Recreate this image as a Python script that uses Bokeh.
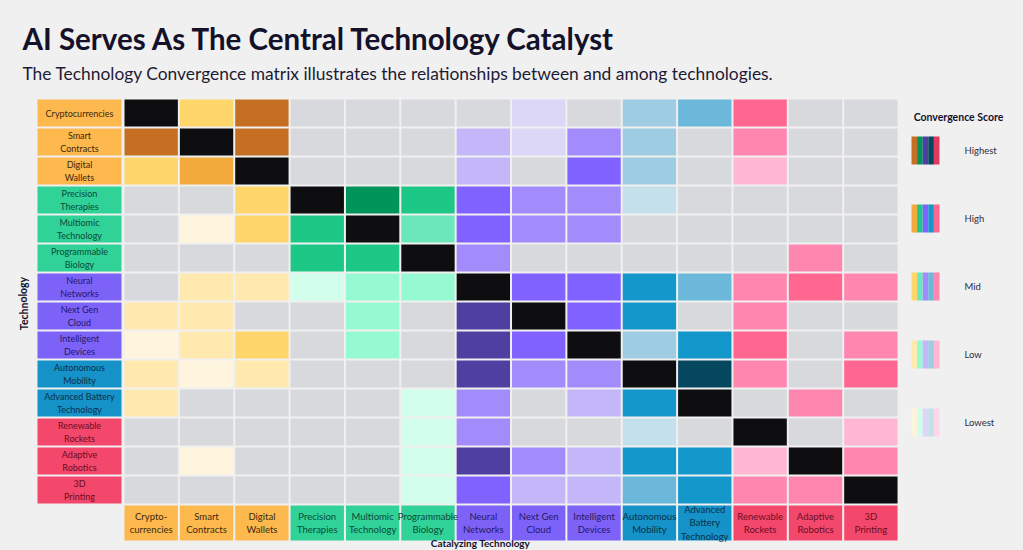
from bokeh.plotting import figure
from bokeh.models import Range1d
from bokeh.core.properties import value
from bokeh.embed import file_html
from bokeh.resources import INLINE

# ---------------- data ----------------
row_labels = ["Cryptocurrencies", "Smart\nContracts", "Digital\nWallets", "Precision\nTherapies",
              "Multiomic\nTechnology", "Programmable\nBiology", "Neural\nNetworks", "Next Gen\nCloud",
              "Intelligent\nDevices", "Autonomous\nMobility", "Advanced Battery\nTechnology",
              "Renewable\nRockets", "Adaptive\nRobotics", "3D\nPrinting"]
col_labels = ["Crypto-\ncurrencies", "Smart\nContracts", "Digital\nWallets", "Precision\nTherapies",
              "Multiomic\nTechnology", "Programmable\nBiology", "Neural\nNetworks", "Next Gen\nCloud",
              "Intelligent\nDevices", "Autonomous\nMobility", "Advanced\nBattery\nTechnology",
              "Renewable\nRockets", "Adaptive\nRobotics", "3D\nPrinting"]
tech_group = [0, 0, 0, 1, 1, 1, 2, 2, 2, 3, 3, 4, 4, 4]
legend_levels = ["Highest", "High", "Mid", "Low", "Lowest"]
legend_scores = [5, 4, 3, 2, 1]

# convergence score: -1 = self, 0 = none, 1 lowest ... 5 highest
scores = [
    [-1, 3, 5, 0, 0, 0, 0, 1, 0, 2, 3, 4, 0, 0],
    [5, -1, 5, 0, 0, 0, 2, 1, 3, 2, 0, 3, 0, 0],
    [3, 4, -1, 0, 0, 0, 2, 0, 4, 2, 0, 2, 0, 0],
    [0, 0, 3, -1, 5, 4, 4, 3, 3, 1, 0, 0, 0, 0],
    [0, 1, 3, 4, -1, 3, 4, 3, 3, 0, 0, 0, 0, 0],
    [0, 0, 0, 4, 4, -1, 3, 0, 0, 0, 0, 0, 3, 0],
    [0, 2, 2, 1, 2, 2, -1, 4, 4, 4, 3, 3, 4, 3],
    [2, 2, 0, 0, 2, 0, 5, -1, 4, 4, 0, 3, 0, 0],
    [1, 2, 3, 0, 2, 0, 5, 4, -1, 2, 4, 4, 0, 3],
    [2, 1, 2, 0, 0, 0, 5, 3, 3, -1, 5, 3, 0, 4],
    [2, 0, 0, 0, 0, 1, 3, 0, 2, 4, -1, 0, 3, 0],
    [0, 0, 0, 0, 0, 1, 3, 0, 0, 1, 0, -1, 0, 2],
    [0, 1, 0, 0, 0, 1, 5, 3, 2, 4, 4, 2, -1, 3],
    [0, 0, 0, 0, 0, 1, 4, 2, 2, 3, 4, 3, 3, -1],
]

# ---------------- styles ----------------
palettes = [
    {5: "#C56F22", 4: "#F2AA3C", 3: "#FFD66B", 2: "#FFE9AF", 1: "#FFF5DE"},
    {5: "#00935A", 4: "#1DC886", 3: "#6AE8BA", 2: "#95F9D2", 1: "#D2FEEC"},
    {5: "#4E3FA0", 4: "#7F62FF", 3: "#A28BFB", 2: "#C3B7F9", 1: "#DCD6F7"},
    {5: "#05475F", 4: "#1497CB", 3: "#6BB8DA", 2: "#9ECCE2", 1: "#C4E0EA"},
    {5: "#E23A5E", 4: "#FF6690", 3: "#FF86AE", 2: "#FFB7D4", 1: "#FFD6E6"},
]
box_colors = ["#FDB84E", "#30D298", "#7D62F8", "#1592C7", "#F4476C"]
box_text = ["#3B2A0E", "#0B4A36", "#24186A", "#08304A", "#6A0E22"]
NONE_COLOR = "#D8D9DD"
SELF_COLOR = "#0E0E10"
BG = "#F0F0F1"
FONT = value("Lato")

W, H = 1023, 550
GX0, CW = 123.0, 55.36   # grid left (px), column width
GY0, RH = 98.0, 29.0     # grid top (px), row height


def dx(px):
    return (px - GX0) / CW


def dy(px):
    return (px - GY0) / RH


p = figure(width=W, height=H, x_range=Range1d(dx(0), dx(W)), y_range=Range1d(dy(H), dy(0)),
           output_backend="svg", toolbar_location=None, min_border=0,
           x_axis_type=None, y_axis_type=None,
           background_fill_color=BG, border_fill_color=BG, outline_line_color=None)
p.grid.visible = False

# ---------------- cells ----------------
gx, gy = 1.0 / CW, 1.0 / RH
cl, cr, ct, cb, cc = [], [], [], [], []
n = len(row_labels)
for r in range(n):
    for c in range(n):
        s = scores[r][c]
        if s < 0:
            col = SELF_COLOR
        elif s == 0:
            col = NONE_COLOR
        else:
            col = palettes[tech_group[c]][s]
        cl.append(c + gx); cr.append(c + 1 - gx)
        ct.append(r + gy); cb.append(r + 1 - gy)
        cc.append(col)
p.quad(left=cl, right=cr, top=ct, bottom=cb, fill_color=cc, line_color=None)

# ---------------- row label boxes ----------------
rl, rr = dx(37), dx(121)
p.quad(left=[rl] * n, right=[rr] * n, top=[r + gy for r in range(n)],
       bottom=[r + 1 - gy for r in range(n)],
       fill_color=[box_colors[g] for g in tech_group], line_color=None)
p.text(x=[(rl + rr) / 2] * n, y=[r + 0.5 for r in range(n)], text=row_labels,
       text_color=[box_text[g] for g in tech_group], text_font=FONT, text_font_size="9px",
       text_align="center", text_baseline="middle", text_line_height=1.25)

# ---------------- column label boxes ----------------
ctop, cbot = dy(505), dy(540)
p.quad(left=[c + gx for c in range(n)], right=[c + 1 - gx for c in range(n)],
       top=[ctop] * n, bottom=[cbot] * n,
       fill_color=[box_colors[g] for g in tech_group], line_color=None)
p.text(x=[c + 0.5 for c in range(n)], y=[(ctop + cbot) / 2] * n, text=col_labels,
       text_color=[box_text[g] for g in tech_group], text_font=FONT, text_font_size="9.5px",
       text_align="center", text_baseline="middle", text_line_height=1.2)

# ---------------- legend ----------------
sw_x0, stripe = 911.0, 5.6
ll, lr, lt, lb, lc = [], [], [], [], []
for i, s in enumerate(legend_scores):
    y0 = 136 + i * 68
    for g in range(5):
        ll.append(dx(sw_x0 + g * stripe)); lr.append(dx(sw_x0 + (g + 1) * stripe))
        lt.append(dy(y0)); lb.append(dy(y0 + 28))
        lc.append(palettes[g][s])
p.quad(left=ll, right=lr, top=lt, bottom=lb, fill_color=lc, line_color=None)
p.text(x=[dx(964)] * 5, y=[dy(150 + i * 68) for i in range(5)], text=legend_levels,
       text_color="#2E2D3A", text_font=FONT, text_font_size="9.5px",
       text_align="left", text_baseline="middle")
p.text(x=[dx(958)], y=[dy(116)], text=["Convergence Score"], text_color="#14112B",
       text_font=FONT, text_font_style="bold", text_font_size="10.5px",
       text_align="center", text_baseline="middle")

# ---------------- titles ----------------
p.text(x=[dx(22)], y=[dy(38)], text=["AI Serves As The Central Technology Catalyst"],
       text_color="#14112B", text_font=FONT, text_font_style="bold", text_font_size="29.5px",
       text_align="left", text_baseline="middle")
p.text(x=[dx(22)], y=[dy(73)], text=["The Technology Convergence matrix illustrates the relationships between and among technologies."],
       text_color="#1E1B33", text_font=FONT, text_font_size="17.4px",
       text_align="left", text_baseline="middle")
p.text(x=[dx(23)], y=[dy(303)], text=["Technology"], angle=1.5708,
       text_color="#14112B", text_font=FONT, text_font_style="bold", text_font_size="10.5px",
       text_align="center", text_baseline="middle")
p.text(x=[dx(480)], y=[dy(548.5)], text=["Catalyzing Technology"],
       text_color="#14112B", text_font=FONT, text_font_style="bold", text_font_size="10px",
       text_align="center", text_baseline="bottom")

html = file_html(p, INLINE)
html = html.replace("<head>", "<head><style>body{background:#F0F0F1;}</style>", 1)
open("out.html", "w").write(html)
